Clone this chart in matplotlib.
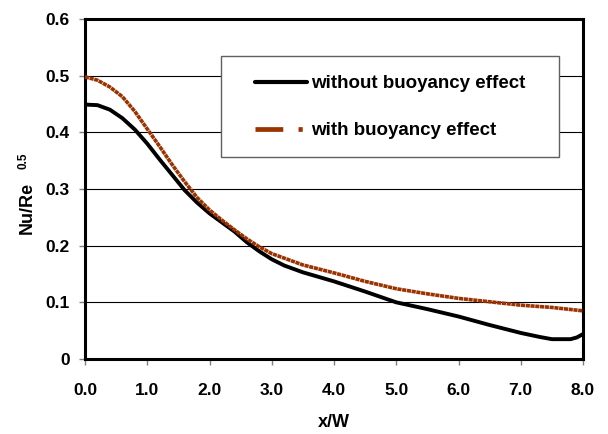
import matplotlib

matplotlib.use("Agg")
import matplotlib.pyplot as plt  # noqa: E402
from matplotlib.lines import Line2D  # noqa: E402
from matplotlib.patches import Rectangle  # noqa: E402

# Local Nusselt number along the plate, Nu/Re^0.5 against x/W
x_plain = [0.0, 0.2, 0.4, 0.6, 0.8, 1.0, 1.2, 1.4, 1.6, 1.8, 2.0, 2.2, 2.4, 2.6,
           2.8, 3.0, 3.2, 3.5, 4.0, 4.5, 5.0, 5.5, 6.0, 6.5, 7.0, 7.3, 7.5, 7.8,
           7.9, 8.0]
nu_plain = [0.449, 0.448, 0.440, 0.425, 0.405, 0.380, 0.352, 0.325, 0.298, 0.276,
            0.257, 0.241, 0.225, 0.206, 0.190, 0.176, 0.165, 0.153, 0.137, 0.119,
            0.100, 0.088, 0.075, 0.060, 0.046, 0.039, 0.035, 0.035, 0.038, 0.044]

x_buoy = [0.0, 0.2, 0.4, 0.6, 0.8, 1.0, 1.2, 1.4, 1.6, 1.8, 2.0, 2.2, 2.4, 2.6,
          2.8, 3.0, 3.5, 4.0, 4.5, 5.0, 5.5, 6.0, 6.5, 7.0, 7.5, 8.0]
nu_buoy = [0.498, 0.492, 0.480, 0.463, 0.437, 0.406, 0.375, 0.343, 0.313, 0.285,
           0.263, 0.245, 0.228, 0.212, 0.198, 0.186, 0.166, 0.152, 0.137, 0.124,
           0.115, 0.107, 0.101, 0.095, 0.091, 0.085]

labels = ["without buoyancy effect", "with buoyancy effect"]
x_ticks = [0, 1, 2, 3, 4, 5, 6, 7, 8]
y_ticks = [0, 0.1, 0.2, 0.3, 0.4, 0.5, 0.6]

BROWN = "#993300"
plt.rcParams["font.family"] = ["Liberation Sans", "DejaVu Sans"]
plt.rcParams["font.weight"] = "bold"
plt.rcParams["lines.scale_dashes"] = False

fig = plt.figure(figsize=(6.08, 4.34), dpi=100)
ax = fig.add_axes([0.1398, 0.1728, 0.8191, 0.7834])

ax.plot(x_plain, nu_plain, color="black", lw=2.8, zorder=4, solid_joinstyle="round")
ax.plot(x_buoy, nu_buoy, color=BROWN, lw=2.6, ls=(0, (3.0, 0.45)),
        dash_capstyle="butt", zorder=4)

ax.set_xlim(0, 8)
ax.set_ylim(0, 0.6)
ax.set_xticks(x_ticks)
ax.set_xticklabels([f"{v:.1f}" for v in x_ticks])
ax.set_yticks(y_ticks)
ax.set_yticklabels(["0" if v == 0 else f"{v:.1f}" for v in y_ticks])
ax.tick_params(direction="out", length=4, width=1, color="#808080", labelsize=12.5)
ax.tick_params(axis="x", pad=13)
ax.tick_params(axis="y", pad=7)
ax.grid(axis="y", color="black", lw=0.8, zorder=1)
ax.set_axisbelow(True)
for side in ["left", "right", "top", "bottom"]:
    ax.spines[side].set_linewidth(2.2)
    ax.spines[side].set_color("black")

ax.set_xlabel("x/W", fontsize=13, fontweight="bold", labelpad=12)
fig.text(0.045, 0.521, "Nu/Re", rotation=90, fontsize=13, fontweight="bold",
         ha="center", va="center")
fig.text(0.039, 0.629, "0.5", rotation=90, fontsize=8.5, fontweight="bold",
         ha="center", va="center")

# legend box drawn over the grid
box = Rectangle((0.273, 0.593), 0.678, 0.299, transform=ax.transAxes,
                facecolor="white", edgecolor="#606060", lw=1.0, zorder=5)
ax.add_patch(box)
handles = [
    Line2D([], [], color="black", lw=3, solid_capstyle="round"),
    Line2D([], [], color=BROWN, lw=3.4, dashes=[20, 11, 3, 30], dash_capstyle="butt"),
]
leg = ax.legend(handles, labels, loc="upper left", bbox_to_anchor=(0.341, 0.835),
                frameon=False, fontsize=13.5, handlelength=2.8, handletextpad=0.2,
                labelspacing=1.6, borderpad=0, borderaxespad=0)
leg.set_zorder(6)

fig.savefig("out.png", dpi=100)
